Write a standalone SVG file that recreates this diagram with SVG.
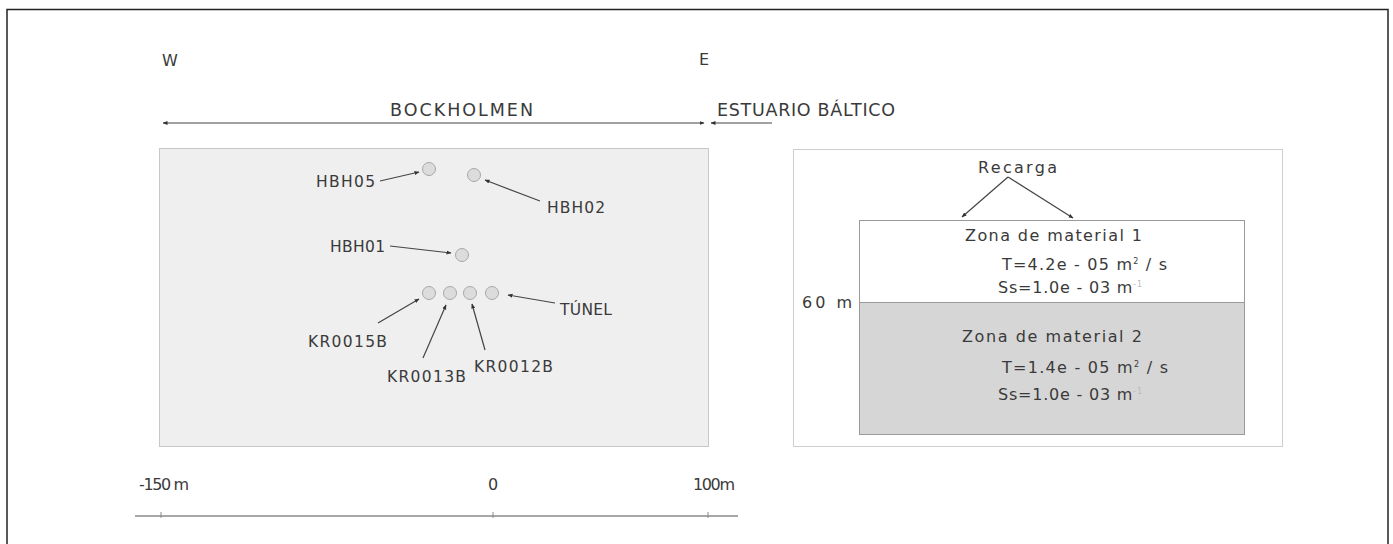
<svg xmlns="http://www.w3.org/2000/svg" width="1393" height="544" viewBox="0 0 1393 544">
<defs>
<marker id="ah" viewBox="0 0 10 10" refX="9" refY="5" markerWidth="5" markerHeight="5" orient="auto-start-reverse" markerUnits="userSpaceOnUse">
<path d="M0,1 L10,5 L0,9 z" fill="#333"/>
</marker>
<style>
text{font-family:"DejaVu Sans","Liberation Sans",sans-serif;fill:#3a3a3a;font-size:16px}
.hdr{font-size:17.5px}
.lbl{font-size:15.5px}
.bh{fill:#dcdcdc;stroke:#a8a8a8;stroke-width:1}
.ld{stroke:#444;stroke-width:1.2;fill:none;marker-end:url(#ah)}
.sup{font-size:8px}
</style>
</defs>
<rect x="0" y="0" width="1393" height="544" fill="#fff"/>
<rect id="frame" x="7" y="9.5" width="1381" height="600" fill="none" stroke="#222" stroke-width="1.5"/>

<g id="header">
<text x="162" y="66">W</text>
<text x="699" y="65">E</text>
<text class="hdr" x="390" y="116" textLength="143">BOCKHOLMEN</text>
<text class="hdr" x="717" y="116" textLength="178">ESTUARIO BÁLTICO</text>
</g>

<g id="plan-panel">
<rect x="159.5" y="148.5" width="549" height="298" fill="#efefef" stroke="#c8c8c8"/>
</g>

<g id="section-panel">
<rect x="793.5" y="149.5" width="489" height="297" fill="#fff" stroke="#cfcfcf"/>
<text x="978" y="173" textLength="79">Recarga</text>
<text x="802" y="308" textLength="50">60 m</text>
</g>

<g id="wells">
<circle id="HBH05" class="bh" cx="429" cy="169" r="6.5"/>
<circle id="HBH02" class="bh" cx="474" cy="175" r="6.5"/>
<circle id="HBH01" class="bh" cx="462" cy="255" r="6.5"/>
<circle id="KR0015B" class="bh" cx="429" cy="293" r="6.5"/>
<circle id="KR0013B" class="bh" cx="450" cy="293" r="6.5"/>
<circle id="KR0012B" class="bh" cx="470" cy="293" r="6.5"/>
<circle id="TUNEL" class="bh" cx="492" cy="293" r="6.5"/>
</g>

<g id="well-labels">
<text class="lbl" x="316" y="187" textLength="59">HBH05</text>
<text class="lbl" x="547" y="213" textLength="58">HBH02</text>
<text class="lbl" x="330" y="252" textLength="55">HBH01</text>
<text class="lbl" x="560" y="315" textLength="52">TÚNEL</text>
<text class="lbl" x="308" y="347" textLength="79">KR0015B</text>
<text class="lbl" x="387" y="382" textLength="79">KR0013B</text>
<text class="lbl" x="474" y="372" textLength="79">KR0012B</text>
</g>

<g id="zona1">
<rect x="859.5" y="220.5" width="385" height="82" fill="#fff" stroke="#9a9a9a"/>
<text x="965" y="241" textLength="177">Zona de material 1</text>
<text x="1002" y="270" textLength="165">T=4.2e - 05 m<tspan class="sup" dy="-6">2</tspan><tspan dy="6"> / s</tspan></text>
<text x="998" y="293" textLength="144">Ss=1.0e - 03 m<tspan class="sup" dy="-6" fill="#bbb">-1</tspan></text>
</g>

<g id="zona2">
<rect x="859.5" y="302.5" width="385" height="132" fill="#d6d6d6" stroke="#9a9a9a"/>
<text x="962" y="342" textLength="180">Zona de material  2</text>
<text x="1002" y="373" textLength="166">T=1.4e - 05 m<tspan class="sup" dy="-6">2</tspan><tspan dy="6"> / s</tspan></text>
<text x="998" y="400" textLength="144">Ss=1.0e - 03 m<tspan class="sup" dy="-6" fill="#bbb">-1</tspan></text>
</g>

<g id="connectors">
<line class="ld" x1="380" y1="181" x2="419" y2="172"/>
<line class="ld" x1="540" y1="201" x2="485" y2="180"/>
<line class="ld" x1="390" y1="246" x2="451" y2="253"/>
<line class="ld" x1="555" y1="303" x2="508" y2="295"/>
<line class="ld" x1="378" y1="323" x2="419" y2="299"/>
<line class="ld" x1="423" y1="358" x2="446" y2="305"/>
<line class="ld" x1="485" y1="350" x2="472" y2="304"/>
<line x1="163" y1="123" x2="704" y2="123" stroke="#444" stroke-width="1.2" marker-start="url(#ah)" marker-end="url(#ah)"/>
<line x1="772" y1="123" x2="711" y2="123" stroke="#444" stroke-width="1.2" marker-end="url(#ah)"/>
<line x1="1008" y1="177" x2="962" y2="217" stroke="#444" stroke-width="1.2" marker-end="url(#ah)"/>
<line x1="1008" y1="177" x2="1073" y2="218" stroke="#444" stroke-width="1.2" marker-end="url(#ah)"/>
</g>

<g id="scale">
<line x1="135" y1="516" x2="738" y2="516" stroke="#8a8a8a" stroke-width="1.5"/>
<line x1="161" y1="512" x2="161" y2="518" stroke="#8a8a8a"/>
<line x1="493" y1="512" x2="493" y2="518" stroke="#8a8a8a"/>
<line x1="708" y1="512" x2="708" y2="518" stroke="#8a8a8a"/>
<text x="139" y="490" textLength="50">-150 m</text>
<text x="488" y="490">0</text>
<text x="693" y="490" textLength="42">100m</text>
</g>
</svg>
